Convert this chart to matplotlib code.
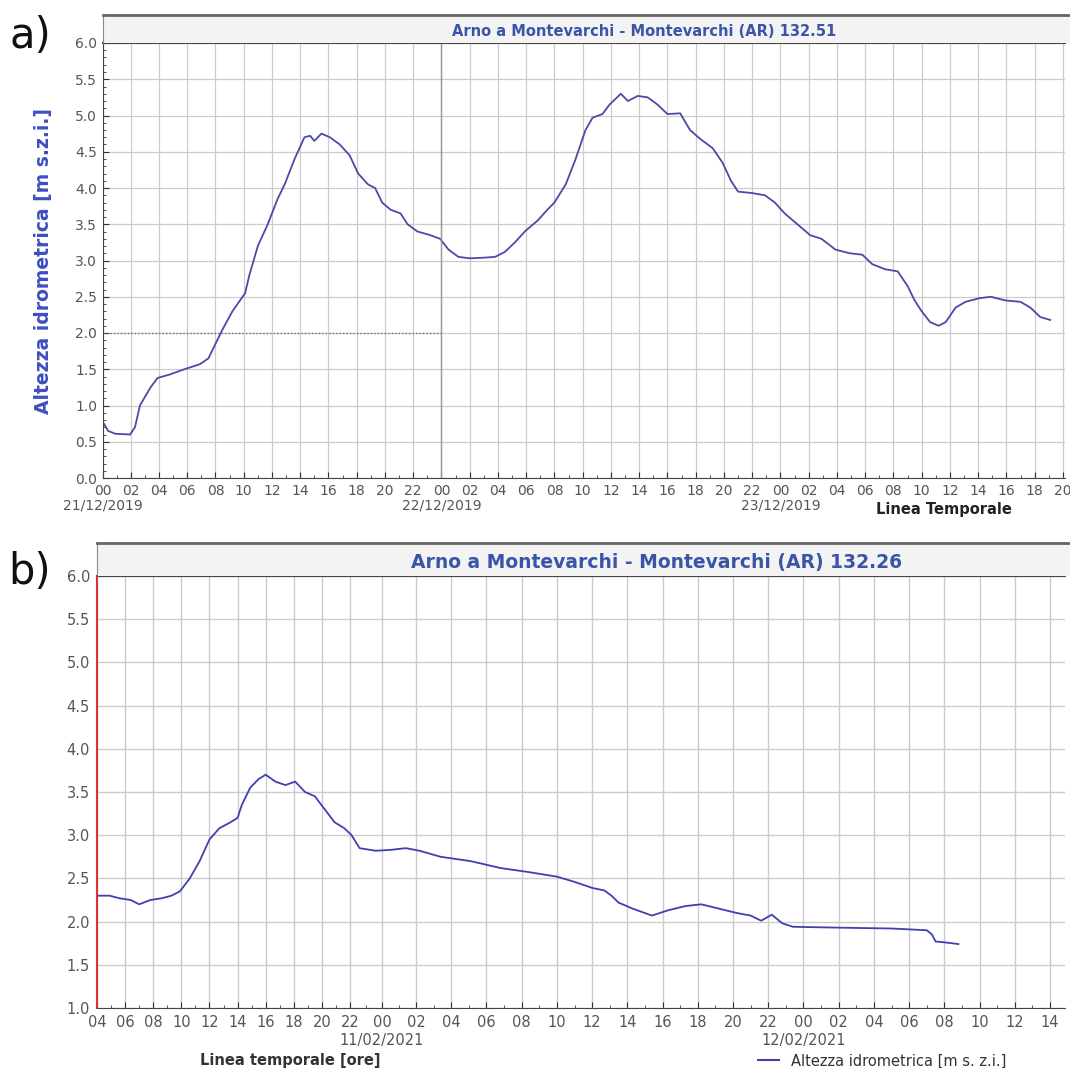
import matplotlib.pyplot as plt
import numpy as np
from matplotlib.ticker import MultipleLocator, FixedLocator
from matplotlib.lines import Line2D
from matplotlib.transforms import blended_transform_factory

# --- panel a: 21/12/2019 00:00 -> 23/12/2019 20:00 (hours from start)
a_hours = [0, 0.4, 0.9, 1.95, 2.3, 2.65, 3.4, 3.9, 4.8, 5.8, 6.9, 7.5, 8.0, 8.5, 9.2,
           10.1, 10.4, 11.0, 11.7, 12.4, 12.9, 13.6, 14.3, 14.7, 15.0, 15.5, 16.1, 16.8,
           17.5, 18.1, 18.8, 19.3, 19.8, 20.4, 21.1, 21.6, 22.3, 23.2, 23.9, 24.5, 25.2,
           26.0, 27.1, 27.8, 28.5, 29.2, 29.9, 30.8, 31.5, 32.0, 32.8, 33.5, 34.2, 34.7,
           35.4, 35.9, 36.7, 37.2, 37.9, 38.6, 39.3, 40.0, 40.9, 41.6, 42.3, 43.2, 43.9,
           44.5, 45.0, 46.0, 46.9, 47.6, 48.3, 49.2, 50.1, 50.9, 51.9, 52.9, 53.8, 54.5,
           55.4, 56.3, 57.0, 57.5, 58.0, 58.6, 59.2, 59.7, 60.4, 61.1, 62.1, 62.9, 63.9,
           65.0, 65.7, 66.4, 67.1]
a_level = [0.78, 0.65, 0.61, 0.6, 0.7, 1.0, 1.25, 1.38, 1.43, 1.5, 1.57, 1.65, 1.85, 2.05, 2.3,
           2.55, 2.8, 3.2, 3.5, 3.85, 4.05, 4.4, 4.7, 4.72, 4.65, 4.75, 4.7, 4.6,
           4.45, 4.2, 4.05, 4.0, 3.8, 3.7, 3.65, 3.5, 3.4, 3.35, 3.3, 3.15, 3.05,
           3.03, 3.04, 3.05, 3.12, 3.25, 3.4, 3.55, 3.7, 3.8, 4.05, 4.4, 4.8, 4.97,
           5.02, 5.15, 5.3, 5.2, 5.27, 5.25, 5.15, 5.02, 5.03, 4.8, 4.68, 4.55, 4.35,
           4.1, 3.95, 3.93, 3.9, 3.8, 3.65, 3.5, 3.35, 3.3, 3.15, 3.1, 3.08, 2.95,
           2.88, 2.85, 2.65, 2.45, 2.3, 2.15, 2.1, 2.15, 2.35, 2.43, 2.48, 2.5, 2.45,
           2.43, 2.35, 2.22, 2.18]
a_dates = {0: '21/12/2019', 24: '22/12/2019', 48: '23/12/2019'}

# --- panel b: 10/02/2021 04:00 -> 12/02/2021 14:00 (hours from start)
b_hours = [0, 0.2, 0.9, 1.6, 2.4, 3.0, 3.8, 4.6, 5.3, 5.9, 6.6, 7.3, 8.0, 8.7, 9.5, 10.0,
           10.3, 10.9, 11.5, 12.0, 12.7, 13.4, 14.1, 14.8, 15.5, 16.2, 16.9, 17.6, 18.1,
           18.6, 19.6, 20.5, 21.4, 22.2, 23.4, 25.1, 26.8, 28.5, 30.0, 31.0, 32.0, 32.7,
           33.1, 33.5, 34.3, 35.4, 36.3, 37.3, 38.2, 39.2, 40.2, 41.0, 41.6, 42.2, 42.8,
           43.4, 46.0, 49.0, 51.0, 51.3, 51.5, 52.0, 52.8]
b_level = [2.3, 2.3, 2.3, 2.27, 2.25, 2.2, 2.25, 2.27, 2.3, 2.35, 2.5, 2.7, 2.95, 3.08, 3.15, 3.2,
           3.35, 3.55, 3.65, 3.7, 3.62, 3.58, 3.62, 3.5, 3.45, 3.3, 3.15, 3.08, 3.0,
           2.85, 2.82, 2.83, 2.85, 2.82, 2.75, 2.7, 2.62, 2.57, 2.52, 2.46, 2.39, 2.36,
           2.3, 2.22, 2.15, 2.07, 2.13, 2.18, 2.2, 2.15, 2.1, 2.07, 2.01, 2.08, 1.98,
           1.94, 1.93, 1.92, 1.9, 1.85, 1.77, 1.76, 1.74]
b_dates = {20: '11/02/2021', 44: '12/02/2021'}

W, H = 1070, 1068
fig = plt.figure(figsize=(W / 100, H / 100), dpi=100)


def box(x0, y0, x1, y1):
    # pixel box (top-left origin) -> figure rect
    return [x0 / W, 1 - y1 / H, (x1 - x0) / W, (y1 - y0) / H]


tick_col = '#555555'
grid_col = '#cccccc'
title_col = '#3a55a8'


def title_bar(rect, text, size, xc):
    bar = fig.add_axes(rect)
    bar.set_facecolor('#f3f3f3')
    bar.set_xticks([])
    bar.set_yticks([])
    for s in ['right', 'bottom']:
        bar.spines[s].set_visible(False)
    bar.spines['top'].set_color('#666666')
    bar.spines['top'].set_linewidth(2)
    bar.spines['left'].set_color('#888888')
    bar.text(xc, 0.42, text, transform=bar.transAxes, ha='center', va='center',
             color=title_col, fontweight='bold', fontsize=size)


def date_labels(ax, dates, y, size):
    tr = blended_transform_factory(ax.transData, ax.transAxes)
    for h, d in dates.items():
        ax.text(h, y, d, transform=tr, ha='center', va='center', fontsize=size, color=tick_col)


# ================= panel a =================
axA = fig.add_axes(box(102.5, 43, 1065, 478))
axA.plot(a_hours, a_level, color='#4a4aa8', lw=1.3)
axA.plot([0, 24], [2.0, 2.0], color='#6a6aa0', lw=1, ls=(0, (1, 1.5)))
axA.set_xlim(0, 68.15)
axA.set_ylim(0, 6)
axA.yaxis.set_major_locator(MultipleLocator(0.5))
axA.yaxis.set_minor_locator(MultipleLocator(0.1))
a_ticks = list(range(0, 69, 2))
axA.xaxis.set_major_locator(FixedLocator(a_ticks))
axA.xaxis.set_minor_locator(MultipleLocator(1))
axA.set_xticklabels([f'{h % 24:02d}' for h in a_ticks])
axA.yaxis.set_major_formatter(plt.FuncFormatter(lambda v, p: f'{v:.1f}'))
axA.grid(True, color=grid_col, lw=0.9)
axA.axvline(24, color='#999999', lw=1)
axA.tick_params(direction='in', length=4, colors='#333333', labelcolor=tick_col, labelsize=10, pad=4)
axA.tick_params(which='minor', direction='in', length=2, colors='#333333')
for s in ['top', 'bottom', 'left']:
    axA.spines[s].set_color('#444444')
axA.spines['top'].set_linewidth(1.5)
axA.spines['right'].set_visible(False)
axA.set_ylabel('Altezza idrometrica [m s.z.i.]', color='#3d4fc0', fontweight='bold', fontsize=13.5, labelpad=16)
date_labels(axA, a_dates, -0.063, 10)
title_bar(box(102.5, 15, 1070, 43), 'Arno a Montevarchi - Montevarchi (AR) 132.51', 10.5, 0.56)
fig.text(944 / W, 1 - 510 / H, 'Linea Temporale', ha='center', va='center', fontweight='bold',
         fontsize=10.5, color='#222222')
fig.text(30 / W, 1 - 36 / H, 'a)', ha='center', va='center', fontsize=30, color='#111111')

# ================= panel b =================
axB = fig.add_axes(box(97, 576, 1065, 1008))
# the original screenshot is stretched after 22:00 of the first day
kh = [-100, 0, 18, 20, 22, 58, 200]
ku = [-1406, 0, 253, 285, 319, 953, 3454]
axB.set_xscale('function', functions=(lambda h: np.interp(h, kh, ku), lambda u: np.interp(u, ku, kh)))
axB.plot(b_hours, b_level, color='#4040b0', lw=1.3)
axB.set_xlim(0, 58.85)
axB.set_ylim(1, 6)
axB.yaxis.set_major_locator(MultipleLocator(0.5))
b_ticks = list(range(0, 59, 2))
axB.xaxis.set_major_locator(FixedLocator(b_ticks))
axB.xaxis.set_minor_locator(FixedLocator(list(range(0, 59))))
axB.set_xticklabels([f'{(h + 4) % 24:02d}' for h in b_ticks])
axB.yaxis.set_major_formatter(plt.FuncFormatter(lambda v, p: f'{v:.1f}'))
axB.grid(True, color=grid_col, lw=1.0)
axB.tick_params(direction='in', length=4, colors='#333333', labelcolor=tick_col, labelsize=10.5, pad=5)
axB.tick_params(which='minor', direction='in', length=2, colors='#333333')
axB.tick_params(axis='y', length=0)
axB.spines['left'].set_color('#e03030')
axB.spines['left'].set_linewidth(1.5)
axB.spines['top'].set_color('#444444')
axB.spines['top'].set_linewidth(1.5)
axB.spines['bottom'].set_color('#444444')
axB.spines['right'].set_visible(False)
date_labels(axB, b_dates, -0.075, 10.5)
title_bar(box(97, 543, 1070, 576), 'Arno a Montevarchi - Montevarchi (AR) 132.26', 13.5, 0.575)
fig.text(290 / W, 1 - 1061 / H, 'Linea temporale [ore]', ha='center', va='center', fontweight='bold',
         fontsize=10.5, color='#333333')
fig.legend(handles=[Line2D([], [], color='#4040b0', lw=1.5)], labels=['Altezza idrometrica [m s. z.i.]'],
           loc='center', bbox_to_anchor=(882 / W, 1 - 1061 / H), frameon=False, fontsize=10.5,
           handlelength=1.5, labelcolor='#333333')
fig.text(30 / W, 1 - 572 / H, 'b)', ha='center', va='center', fontsize=30, color='#111111')

fig.savefig('out.png', dpi=100)
